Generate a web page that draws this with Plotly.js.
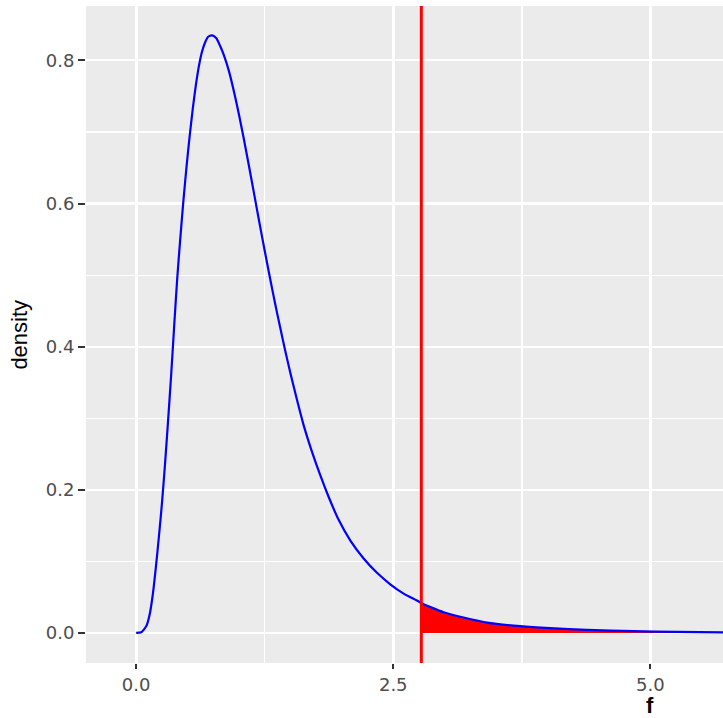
<!DOCTYPE html>
<html>
<head>
<meta charset="utf-8">
<script src="https://cdn.plot.ly/plotly-3.0.1.min.js"></script>
<style>html,body{margin:0;padding:0;background:#fff;}#chart{width:723px;height:718px;}</style>
</head>
<body>
<div id="chart"></div>
<script>
// F density curve
const fValues = [0, 0.05, 0.10, 0.13, 0.16, 0.19, 0.22, 0.25, 0.28, 0.31, 0.34, 0.37, 0.40, 0.43, 0.46, 0.49, 0.52, 0.55, 0.58, 0.61, 0.64, 0.67, 0.70, 0.739, 0.78, 0.82, 0.851, 0.90, 0.95, 1.00, 1.05, 1.10, 1.15, 1.20, 1.25, 1.30, 1.35, 1.40, 1.45, 1.50, 1.565, 1.629, 1.710, 1.791, 1.872, 1.969, 2.083, 2.212, 2.342, 2.471, 2.601, 2.747, 2.773, 2.989, 3.184, 3.411, 3.735, 4.026, 4.383, 4.836, 5.26, 5.71, 6.0];
const densityValues = [0, 0.001, 0.010, 0.025, 0.052, 0.090, 0.133, 0.180, 0.235, 0.296, 0.360, 0.430, 0.497, 0.553, 0.605, 0.652, 0.694, 0.732, 0.765, 0.792, 0.812, 0.825, 0.833, 0.835, 0.831, 0.819, 0.808, 0.786, 0.757, 0.724, 0.688, 0.650, 0.611, 0.572, 0.534, 0.497, 0.461, 0.427, 0.394, 0.363, 0.325, 0.290, 0.253, 0.220, 0.190, 0.158, 0.129, 0.104, 0.084, 0.068, 0.055, 0.044, 0.0415, 0.029, 0.0215, 0.0145, 0.0094, 0.0066, 0.0042, 0.0024, 0.0014, 0.0009, 0.0007];
const fCritical = 2.773;
const xTickVals = [0, 2.5, 5.0];
const xTickText = ["0.0", "2.5", "5.0"];
const yTickVals = [0, 0.2, 0.4, 0.6, 0.8];
const yTickText = ["0.0", "0.2", "0.4", "0.6", "0.8"];

const tailX = [], tailY = [];
for (let i = 0; i < fValues.length; i++) {
  if (fValues[i] >= fCritical) { tailX.push(fValues[i]); tailY.push(densityValues[i]); }
}

const traces = [
  {x: tailX, y: tailY, type: 'scatter', mode: 'lines', fill: 'tozeroy',
   fillcolor: '#FF0000', line: {width: 0, color: '#FF0000'}, hoverinfo: 'skip'},
  {x: fValues, y: densityValues, type: 'scatter', mode: 'lines',
   line: {color: '#0000FF', width: 2.2, shape: 'spline', smoothing: 0.6}}
];

const tickFont = {family: 'DejaVu Sans, Liberation Sans, sans-serif', size: 18, color: '#4D4D4D'};

const layout = {
  width: 723, height: 718,
  margin: {l: 86, r: 0, t: 6, b: 55},
  paper_bgcolor: '#FFFFFF', plot_bgcolor: '#EBEBEB',
  showlegend: false,
  xaxis: {
    range: [-0.488, 5.707], tickvals: xTickVals, ticktext: xTickText,
    showgrid: true, gridcolor: '#FFFFFF', gridwidth: 3,
    minor: {dtick: 1.25, tick0: 0, showgrid: true, gridcolor: '#FFFFFF', gridwidth: 1.5, ticks: ''},
    zeroline: false, showline: false,
    ticks: 'outside', ticklen: 5, tickwidth: 2, tickcolor: '#333333',
    tickfont: tickFont, fixedrange: true
  },
  yaxis: {
    range: [-0.042, 0.876], tickvals: yTickVals, ticktext: yTickText,
    showgrid: true, gridcolor: '#FFFFFF', gridwidth: 2.2,
    minor: {dtick: 0.1, tick0: 0, showgrid: true, gridcolor: '#FFFFFF', gridwidth: 1.1, ticks: ''},
    zeroline: false, showline: false,
    ticks: 'outside', ticklen: 7, tickwidth: 2, tickcolor: '#333333',
    tickfont: tickFont, fixedrange: true
  },
  shapes: [
    {type: 'line', xref: 'x', yref: 'paper', x0: fCritical, x1: fCritical, y0: 0, y1: 1,
     line: {color: '#FF0000', width: 3}, layer: 'above'}
  ],
  annotations: [
    {text: '<b>f</b>', xref: 'x', yref: 'paper', x: 5.0, y: -0.064, xanchor: 'center', yanchor: 'middle',
     showarrow: false, font: {family: 'Liberation Sans, Arial, sans-serif', size: 22, color: '#000000'}},
    {text: 'density', xref: 'paper', yref: 'paper', x: -0.105, y: 0.5, xanchor: 'center', yanchor: 'middle',
     textangle: -90, showarrow: false, font: {family: 'Liberation Sans, Arial, sans-serif', size: 22, color: '#000000'}}
  ]
};

Plotly.newPlot('chart', traces, layout, {displayModeBar: false, staticPlot: true});
</script>
</body>
</html>
